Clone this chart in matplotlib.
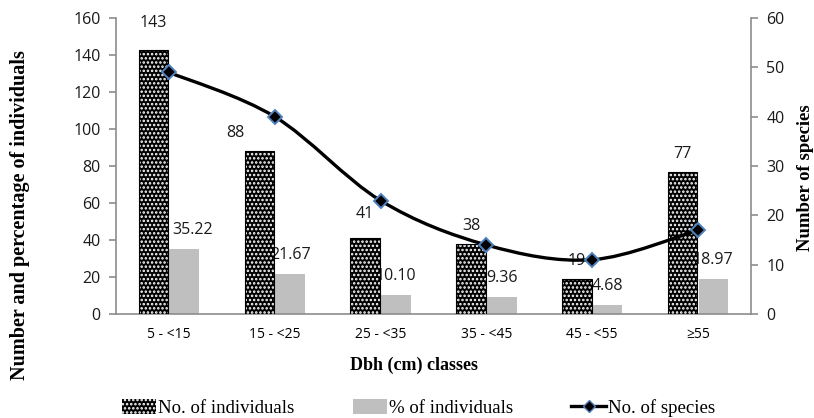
import numpy as np
import matplotlib
matplotlib.use("Agg")
import matplotlib.pyplot as plt
from matplotlib.path import Path
from matplotlib.patches import PathPatch, Patch
from matplotlib.lines import Line2D

# Dbh classes and counts
classes = ["5 - <15", "15 - <25", "25 - <35", "35 - <45", "45 - <55", "≥55"]
n_individuals = [143, 88, 41, 38, 19, 77]
pct_individuals = [35.22, 21.67, 10.10, 9.36, 4.68, 18.97]
n_species = [49, 40, 23, 14, 11, 17]

tick_font = "Open Sans"
serif = "Liberation Serif"
axis_grey = "#8c8c8c"
text_col = "#1a1a1a"

plt.rcParams["hatch.linewidth"] = 1.2

fig = plt.figure(figsize=(8.14, 4.18), dpi=100)
ax = fig.add_axes([0.1425, 0.2488, 0.780, 0.708])
ax2 = ax.twinx()

x = np.arange(len(classes))
w = 0.28

# number of individuals: black with white dots
ax.bar(x - 0.145, n_individuals, w, color="black", edgecolor="white",
       hatch="....", linewidth=0, zorder=3)
ax.bar(x - 0.145, n_individuals, w, facecolor="none", edgecolor="black",
       linewidth=0.8, zorder=3)
ax.bar(x + 0.145, pct_individuals, w, color="#bfbfbf", linewidth=0, zorder=2)

# value labels (percentage labels sit under the black bars)
nudge = {0: (0, 27), 1: (-24, 18), 2: (0, 24)}
for i, v in enumerate(n_individuals):
    dx, dy = nudge.get(i, (0, 18))
    ax.annotate(str(v), (x[i] - 0.145, v), xytext=(dx, dy), textcoords="offset pixels",
                ha="center", va="center", fontsize=11.5, family=tick_font,
                color=text_col, zorder=4)
for i, v in enumerate(pct_individuals):
    dx = 8 if i == 0 else 0
    ax.annotate(f"{v:.2f}", (x[i] + 0.145, v), xytext=(dx, 19), textcoords="offset pixels",
                ha="center", va="center", fontsize=11.5, family=tick_font,
                color=text_col, zorder=2.5)

ax.set_xlim(-0.5, len(classes) - 0.5)
ax.set_ylim(0, 160)
ax.set_yticks(range(0, 161, 20))
ax2.set_ylim(0, 60)
ax2.set_yticks(range(0, 61, 10))

# smoothed species line (Catmull-Rom style Bezier segments)
pts = np.column_stack([x, n_species]).astype(float)
verts = [pts[0]]
codes = [Path.MOVETO]
for i in range(len(pts) - 1):
    p0 = pts[i - 1] if i > 0 else pts[i]
    p1, p2 = pts[i], pts[i + 1]
    p3 = pts[i + 2] if i + 2 < len(pts) else pts[i + 1]
    c1 = p1 + (p2 - p0) / 6.0
    c2 = p2 - (p3 - p1) / 6.0
    verts += [c1, c2, p2]
    codes += [Path.CURVE4] * 3
ax2.add_patch(PathPatch(Path(verts, codes), facecolor="none", edgecolor="black",
                        linewidth=2.4, zorder=5, capstyle="round"))
ax2.plot(x, n_species, linestyle="none", marker="D", markersize=7,
         markerfacecolor="black", markeredgecolor="#4f81bd", markeredgewidth=1.4, zorder=6)
ax2.set_zorder(ax.get_zorder() + 1)
ax2.patch.set_visible(False)

# axes styling
for a in (ax, ax2):
    a.spines["top"].set_visible(False)
    for s in ("left", "right", "bottom"):
        a.spines[s].set_color(axis_grey)
        a.spines[s].set_linewidth(1.2)
    a.tick_params(axis="both", colors=axis_grey, labelcolor=text_col, length=5, width=1.2)
    a.tick_params(axis="y", labelsize=11.5, pad=6)
    for t in a.get_yticklabels():
        t.set_family(tick_font)
ax.spines["right"].set_visible(False)
ax2.spines["left"].set_visible(False)
ax2.spines["bottom"].set_visible(False)

ax.set_xticks(np.arange(-0.5, len(classes), 1.0))
ax.set_xticklabels([])
ax.set_xticks(x, minor=True)
ax.set_xticklabels(classes, minor=True, family=tick_font, fontsize=10)
ax.tick_params(axis="x", which="minor", length=0, pad=9)
ax2.set_xticks([])

fig.text(0.508, 0.125, "Dbh (cm) classes", ha="center", va="center",
         family=serif, fontweight="bold", fontsize=13)
fig.text(0.025, 0.486, "Number and percentage of individuals", rotation=90, ha="center",
         va="center", family=serif, fontweight="bold", fontsize=14.5)
fig.text(0.989, 0.575, "Number of species", rotation=90, ha="center", va="center",
         family=serif, fontweight="bold", fontsize=13.5)

handles = [
    Patch(facecolor="black", edgecolor="white", hatch="....", linewidth=0),
    Patch(facecolor="#bfbfbf", linewidth=0),
    Line2D([0], [0], color="black", linewidth=2.4, marker="D", markersize=6,
           markerfacecolor="black", markeredgecolor="#4f81bd"),
]
fig.legend(handles, ["No. of individuals", "% of individuals", "No. of species"],
           loc="center", bbox_to_anchor=(0.514, 0.024), ncol=3, frameon=False,
           prop={"family": serif, "size": 13.5}, handlelength=1.85, handleheight=0.8,
           handletextpad=0.1, columnspacing=3.1, borderpad=0)

fig.savefig("out.png", dpi=100)
